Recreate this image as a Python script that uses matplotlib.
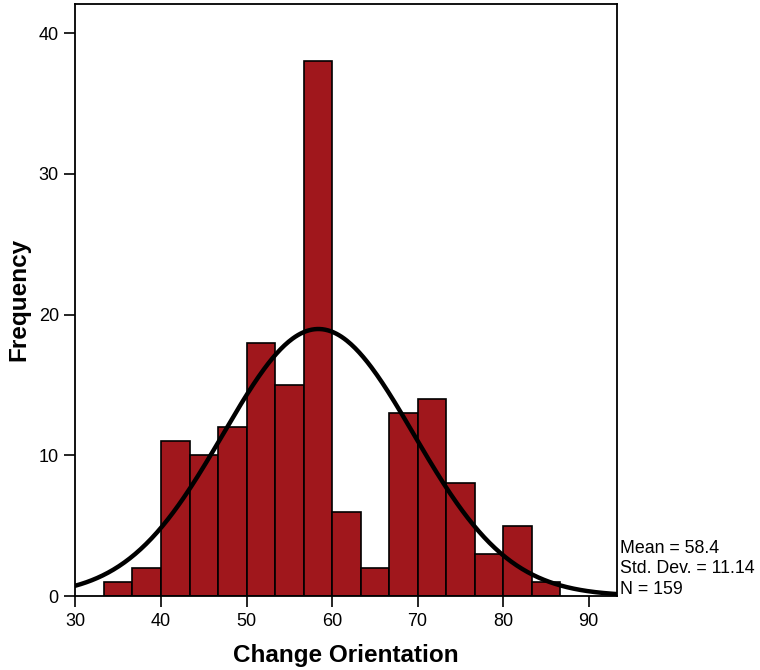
import matplotlib
matplotlib.use("Agg")
import matplotlib.pyplot as plt
import numpy as np

plt.rcParams["font.family"] = ["Liberation Sans", "DejaVu Sans"]

# histogram data
bin_start = 33.333
bin_width = 10 / 3
counts = [1, 2, 11, 10, 12, 18, 15, 38, 6, 2, 13, 14, 8, 3, 5, 1]
mean = 58.4
std = 11.14
n = 159

edges = bin_start + bin_width * np.arange(len(counts))

fig = plt.figure(figsize=(7.6, 6.7), dpi=100)
ax = fig.add_axes([0.0993, 0.1104, 0.7127, 0.884])

ax.bar(edges, counts, width=bin_width, align="edge",
       color="#A0171C", edgecolor="black", linewidth=1.2)

xs = np.linspace(30, 93.33, 400)
ys = n * bin_width * np.exp(-0.5 * ((xs - mean) / std) ** 2) / (std * np.sqrt(2 * np.pi))
ax.plot(xs, ys, color="black", linewidth=3.2)

ax.set_xlim(30, 93.33)
ax.set_ylim(0, 42.1)
ax.set_xticks([30, 40, 50, 60, 70, 80, 90])
ax.set_yticks([0, 10, 20, 30, 40])
ax.tick_params(direction="out", length=8, width=1.2, labelsize=13, pad=4)
for s in ax.spines.values():
    s.set_linewidth(1.3)

ax.set_xlabel("Change Orientation", fontsize=17.5, fontweight="bold", labelpad=10)
ax.set_ylabel("Frequency", fontsize=17.5, fontweight="bold", labelpad=6)

fig.text(0.816, 0.107, "Mean = 58.4\nStd. Dev. = 11.14\nN = 159",
         fontsize=12.8, ha="left", va="bottom", linespacing=1.3)

fig.savefig("out.png", dpi=100)
